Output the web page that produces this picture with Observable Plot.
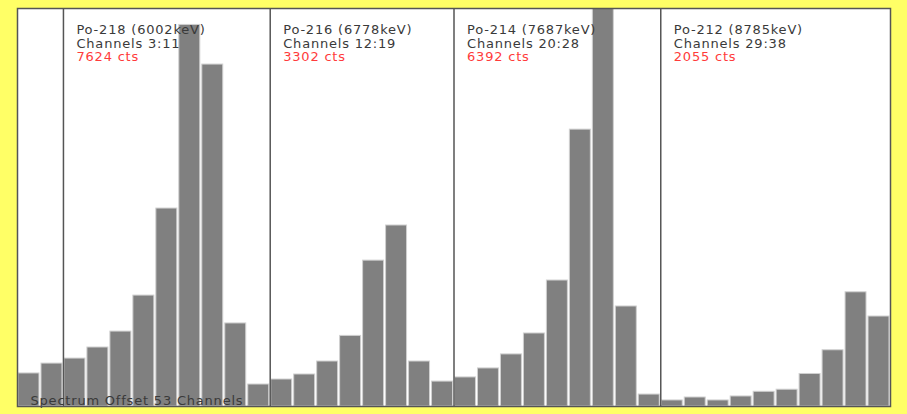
<!DOCTYPE html>
<html>
<head>
<meta charset="utf-8">
<script src="https://cdn.jsdelivr.net/npm/d3@7"></script>
<script src="https://cdn.jsdelivr.net/npm/@observablehq/plot@0.6"></script>
<style>
  html, body { margin: 0; padding: 0; background: #ffff66; }
  #chart svg text { letter-spacing: 0.8px; }
</style>
</head>
<body>
<div id="chart"></div>
<script>
// Alpha spectrum, counts per channel (channels 1..38 after the offset)
const counts = [
  191, 248, 277, 341, 433, 641, 1144, 2205, 1976, 480, 127,
  156, 185, 260, 408, 843, 1046, 260, 144,
  168, 220, 301, 422, 728, 1600, 2306, 578, 69,
  35, 52, 35, 58, 85, 97, 188, 325, 660, 520
];

// Polonium peak windows
const isotopes = ["Po-218", "Po-216", "Po-214", "Po-212"];
const energiesKeV = [6002, 6778, 7687, 8785];
const firstChannels = [3, 12, 20, 29];
const lastChannels = [11, 19, 28, 38];
const spectrumOffset = 53;

const spectrum = counts.map((c, i) => ({channel: i + 1, cts: c}));

const windows = isotopes.map((name, i) => {
  const first = firstChannels[i], last = lastChannels[i];
  const total = d3.sum(spectrum.filter(d => d.channel >= first && d.channel <= last), d => d.cts);
  return {
    first,
    label: `${name} (${energiesKeV[i]}keV)\nChannels ${first}:${last}\n${total} cts`
  };
});

const textColor = "#3a3a3a";
const totalColor = "#ff3b3b";

const chart = Plot.plot({
  width: 907,
  height: 414,
  marginLeft: 17,
  marginRight: 17,
  marginTop: 8,
  marginBottom: 8,
  style: {background: "#ffff66", fontFamily: "DejaVu Sans", fontSize: "13px"},
  x: {domain: [1, counts.length + 1], axis: null},
  y: {domain: [0, 2300], axis: null},
  marks: [
    Plot.frame({fill: "white", stroke: null}),
    Plot.rectY(spectrum, {
      x: "channel", interval: 1, y: "cts",
      fill: "#808080", stroke: "#d0d0d0", strokeWidth: 1,
      insetLeft: 1, insetRight: 1, clip: true
    }),
    Plot.ruleX(firstChannels, {stroke: "#555", strokeWidth: 1.5}),
    // window header: name and energy, channel range, summed counts
    Plot.text(windows, {
      x: "first", text: "label", frameAnchor: "top", textAnchor: "start",
      lineAnchor: "bottom", lineHeight: 1.02, dx: 13, dy: 52.5, fill: textColor
    }),
    Plot.text([`Spectrum Offset ${spectrumOffset} Channels`], {
      frameAnchor: "bottom-left", textAnchor: "start", lineAnchor: "bottom",
      dx: 13, dy: -2, fill: textColor
    }),
    Plot.frame({stroke: "#555", strokeWidth: 1.5})
  ]
});

// the summed-counts line of each window header is shown in red
chart.querySelectorAll("text").forEach(t => {
  const lines = t.querySelectorAll("tspan");
  if (lines.length === 3) {
    lines[2].setAttribute("fill", totalColor);
    lines[2].style.fill = totalColor;
  }
});

document.getElementById("chart").append(chart);
</script>
</body>
</html>
